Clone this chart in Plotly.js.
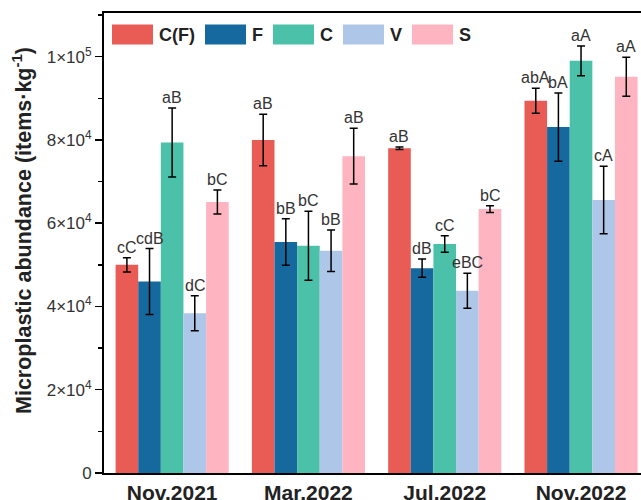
<!DOCTYPE html>
<html><head><meta charset="utf-8">
<script src="https://cdn.plot.ly/plotly-3.0.1.min.js"></script>
<style>html,body{margin:0;padding:0;overflow:hidden;background:#fff}</style>
</head><body><div id="chart"></div>
<script>
const categories = ['Nov.2021', 'Mar.2022', 'Jul.2022', 'Nov.2022'];
const seriesNames = ['C(F)', 'F', 'C', 'V', 'S'];
const seriesColors = ['#E95C55', '#16699E', '#4BC1AA', '#AEC7E8', '#FFB5C1'];

const valCF = [50000, 80000, 78000, 89400];
const valF  = [46000, 55500, 49200, 83100];
const valC  = [79400, 54600, 55000, 99000];
const valV  = [38400, 53400, 43800, 65600];
const valS  = [65100, 76100, 63400, 95200];

const errCF = [1700, 6200, 300, 3000];
const errF  = [7900, 5600, 2200, 8200];
const errC  = [8300, 8300, 2000, 3600];
const errV  = [4200, 5000, 4200, 8100];
const errS  = [2900, 6700, 800, 4700];

const lblCF = ['cC', 'aB', 'aB', 'abA'];
const lblF  = ['cdB', 'bB', 'dB', 'bA'];
const lblC  = ['aB', 'bC', 'cC', 'aA'];
const lblV  = ['dC', 'bB', 'eBC', 'cA'];
const lblS  = ['bC', 'aB', 'bC', 'aA'];

const yTickVals = [0, 20000, 40000, 60000, 80000, 100000];
const yTickText = ['0', '2×10<sup>4</sup>', '4×10<sup>4</sup>', '6×10<sup>4</sup>', '8×10<sup>4</sup>', '1×10<sup>5</sup>'];
const yTitle = 'Microplastic abundance (items·kg<sup>-1</sup>)';

const values = [valCF, valF, valC, valV, valS];
const errors = [errCF, errF, errC, errV, errS];
const labels = [lblCF, lblF, lblC, lblV, lblS];

const FONT = 'Arial, "Liberation Sans", sans-serif';
const bargap = 0.17;
const barW = (1 - bargap) / seriesNames.length;

const traces = seriesNames.map((name, i) => ({
  type: 'bar', name: name, x: categories, y: values[i],
  marker: {color: seriesColors[i], line: {width: 0}},
  error_y: {type: 'data', array: errors[i], visible: true, color: '#000', thickness: 1.5, width: 4},
  showlegend: false
}));

const annotations = [];
seriesNames.forEach((name, i) => {
  categories.forEach((c, j) => {
    annotations.push({
      xref: 'x', yref: 'y', x: j + (i - 2) * barW, y: values[i][j] + errors[i][j],
      text: labels[i][j], showarrow: false, yanchor: 'bottom', xanchor: 'center',
      font: {family: FONT, size: 16, color: '#333'}, yshift: 0
    });
  });
});

// manual legend (wide swatches) and y title placement
const L = 104, W = 537, T = 13, H = 460;
const px = v => (v - L) / W, py = v => (T + H - v) / H;
const legX = [112, 205, 273, 343, 412];
const shapes = [];
seriesNames.forEach((name, i) => {
  shapes.push({type: 'rect', xref: 'paper', yref: 'paper',
    x0: px(legX[i]), x1: px(legX[i] + 41), y0: py(44.5), y1: py(24.5),
    fillcolor: seriesColors[i], line: {width: 0}});
  annotations.push({xref: 'paper', yref: 'paper', x: px(legX[i] + 45), y: py(34.5),
    xanchor: 'left', yanchor: 'middle', showarrow: false, text: name,
    font: {family: FONT, size: 18, color: '#222', weight: 'bold'}});
});
annotations.push({xref: 'paper', yref: 'paper', x: px(22), y: py(231),
  xanchor: 'center', yanchor: 'middle', showarrow: false, textangle: -90, text: yTitle,
  font: {family: FONT, size: 21.5, color: '#222', weight: 'bold'}});

const layout = {
  width: 641, height: 500,
  margin: {l: L, r: 0, t: T, b: 27},
  paper_bgcolor: '#fff', plot_bgcolor: '#fff',
  barmode: 'group', bargap: bargap, bargroupgap: 0,
  showlegend: false,
  xaxis: {
    type: 'category', range: [-0.5, 3.44],
    showline: true, linecolor: '#000', linewidth: 2, mirror: true,
    ticks: '', showgrid: false, zeroline: false,
    tickfont: {family: FONT, size: 21, color: '#222', weight: 'bold'}
  },
  yaxis: {
    range: [0, 110500], tickmode: 'array', tickvals: yTickVals, ticktext: yTickText,
    showline: true, linecolor: '#000', linewidth: 2,
    ticks: 'outside', ticklen: 7, tickwidth: 1.5, tickcolor: '#000',
    minor: {ticks: 'outside', ticklen: 4, tickwidth: 1.5, tickcolor: '#000', dtick: 10000, tick0: 0, showgrid: false},
    showgrid: false, zeroline: false,
    tickfont: {family: FONT, size: 17, color: '#333'}
  },
  annotations: annotations,
  shapes: shapes
};

Plotly.newPlot('chart', traces, layout, {displayModeBar: false, staticPlot: true});
</script></body></html>
